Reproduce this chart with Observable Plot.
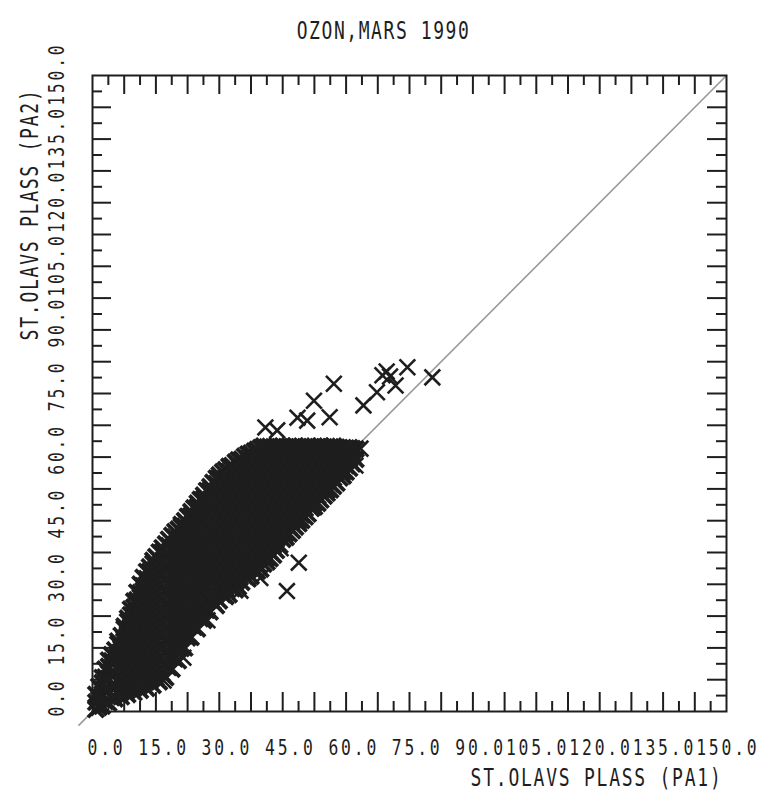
<!DOCTYPE html>
<html>
<head>
<meta charset="utf-8">
<script src="https://cdn.jsdelivr.net/npm/d3@7"></script>
<script src="https://cdn.jsdelivr.net/npm/@observablehq/plot@0.6"></script>
<style>
  html, body { margin: 0; padding: 0; background: #fff; }
  svg text { font-family: "DejaVu Sans Mono", "Liberation Mono", monospace; }
</style>
</head>
<body>
<div id="chart"></div>
<script>
// Ozone, March 1990: hourly values at St. Olavs plass, PA1 against PA2
const title = "OZON,MARS 1990";
const xLabel = "ST.OLAVS PLASS (PA1)";
const yLabel = "ST.OLAVS PLASS (PA2)";

// axis: labels every 15, long ticks every 7.5, short ticks between
const labelTicks = [0, 15, 30, 45, 60, 75, 90, 105, 120, 135, 150];
const longTicks = [7.5, 15, 22.5, 30, 37.5, 45, 52.5, 60, 67.5, 75, 82.5, 90, 97.5, 105, 112.5, 120, 127.5, 135, 142.5];
const shortTicks = [3.75, 11.25, 18.75, 26.25, 33.75, 41.25, 48.75, 56.25, 63.75, 71.25, 78.75, 86.25, 93.75, 101.25, 108.75, 116.25, 123.75, 131.25, 138.75, 146.25];

// 1:1 reference line
const diagonal = [-3.2, 150];

// main body of readings: each row is one PA1 value followed by the PA2 values read at it
const columns = [
  [0.8, 0.5, 2.2, 4.0],
  [1.5, 1.0, 3.4, 5.9],
  [2.3, 1.3, 4.1, 6.8, 8.0],
  [3.0, 2.4, 5.3, 8.1, 10.0],
  [3.8, 2.0, 4.9, 7.7, 10.6, 12.1],
  [4.5, 3.3, 6.2, 9.1, 11.9, 13.4],
  [5.3, 3.0, 5.8, 8.7, 11.6, 14.5],
  [6.0, 4.4, 7.3, 10.1, 13.0, 15.9, 16.6],
  [6.8, 3.5, 6.4, 9.3, 12.1, 15.0, 17.9],
  [7.5, 5.1, 8.0, 10.9, 13.7, 16.6, 19.5, 20.1],
  [8.3, 4.0, 6.9, 9.8, 12.6, 15.5, 18.4, 21.2, 22.0],
  [9.0, 5.6, 8.5, 11.4, 14.2, 17.1, 20.0, 22.8, 24.1],
  [9.8, 4.5, 7.4, 10.3, 13.1, 16.0, 18.9, 21.7, 24.6, 26.0],
  [10.5, 6.2, 9.1, 12.0, 14.8, 17.7, 20.6, 23.4, 26.3, 28.1],
  [11.3, 5.0, 7.9, 10.8, 13.6, 16.5, 19.4, 22.2, 25.1, 28.0, 30.0],
  [12.0, 6.6, 9.5, 12.4, 15.2, 18.1, 21.0, 23.8, 26.7, 29.6, 31.6],
  [12.8, 5.5, 8.4, 11.3, 14.1, 17.0, 19.9, 22.7, 25.6, 28.5, 31.3, 33.0],
  [13.5, 7.2, 10.1, 13.0, 15.8, 18.7, 21.6, 24.4, 27.3, 30.2, 33.0, 34.1],
  [14.3, 6.2, 9.1, 12.0, 14.8, 17.7, 20.6, 23.4, 26.3, 29.2, 32.0, 34.9, 35.6],
  [15.0, 7.9, 10.8, 13.7, 16.5, 19.4, 22.3, 25.1, 28.0, 30.9, 33.7, 36.5],
  [15.8, 7.0, 9.9, 12.8, 15.6, 18.5, 21.4, 24.2, 27.1, 30.0, 32.8, 35.7, 37.6],
  [16.5, 8.9, 11.8, 14.7, 17.5, 20.4, 23.3, 26.1, 29.0, 31.9, 34.7, 37.6, 38.6],
  [17.3, 8.0, 10.9, 13.8, 16.6, 19.5, 22.4, 25.2, 28.1, 31.0, 33.8, 36.7, 39.5],
  [18.0, 10.4, 13.3, 16.2, 19.0, 21.9, 24.8, 27.6, 30.5, 33.4, 36.2, 39.1, 40.6],
  [18.8, 10.0, 12.9, 15.8, 18.6, 21.5, 24.4, 27.2, 30.1, 33.0, 35.8, 38.7, 41.5],
  [19.5, 12.4, 15.3, 18.2, 21.0, 23.9, 26.8, 29.6, 32.5, 35.4, 38.2, 41.1, 42.4],
  [20.3, 12.0, 14.9, 17.8, 20.6, 23.5, 26.4, 29.2, 32.1, 35.0, 37.8, 40.7, 43.0],
  [21.0, 14.9, 17.8, 20.7, 23.5, 26.4, 29.3, 32.1, 35.0, 37.9, 40.7, 43.6, 44.1],
  [21.8, 15.0, 17.9, 20.8, 23.6, 26.5, 29.4, 32.2, 35.1, 38.0, 40.8, 43.7, 45.0],
  [22.5, 17.4, 20.3, 23.2, 26.0, 28.9, 31.8, 34.6, 37.5, 40.4, 43.2, 46.0],
  [23.3, 17.5, 20.4, 23.3, 26.1, 29.0, 31.9, 34.7, 37.6, 40.5, 43.3, 46.2, 47.1],
  [24.0, 19.9, 22.8, 25.7, 28.5, 31.4, 34.3, 37.1, 40.0, 42.9, 45.7, 48.0],
  [24.8, 19.5, 22.4, 25.3, 28.1, 31.0, 33.9, 36.7, 39.6, 42.5, 45.3, 48.2, 49.1],
  [25.5, 21.9, 24.8, 27.7, 30.5, 33.4, 36.3, 39.1, 42.0, 44.9, 47.7, 50.0],
  [26.3, 21.5, 24.4, 27.3, 30.1, 33.0, 35.9, 38.7, 41.6, 44.5, 47.3, 50.2, 51.0],
  [27.0, 23.9, 26.8, 29.7, 32.5, 35.4, 38.3, 41.1, 44.0, 46.9, 49.7, 52.1],
  [27.8, 23.5, 26.4, 29.3, 32.1, 35.0, 37.9, 40.7, 43.6, 46.5, 49.3, 52.2, 53.0],
  [28.5, 25.9, 28.8, 31.7, 34.5, 37.4, 40.3, 43.1, 46.0, 48.9, 51.7, 54.0],
  [29.3, 25.0, 27.9, 30.8, 33.6, 36.5, 39.4, 42.2, 45.1, 48.0, 50.8, 53.7, 55.0],
  [30.0, 26.1, 29.0, 31.9, 34.8, 37.7, 40.6, 43.5, 46.4, 49.3, 52.2, 55.1, 55.8],
  [30.8, 27.6, 30.5, 33.4, 36.3, 39.2, 42.1, 45.0, 47.9, 50.8, 53.7, 56.5],
  [31.5, 27.1, 29.0, 31.9, 34.8, 37.7, 40.6, 43.5, 46.4, 49.3, 52.2, 55.1, 57.0],
  [32.3, 27.6, 30.5, 33.4, 36.3, 39.2, 42.1, 45.0, 47.9, 50.8, 53.7, 56.6, 57.8],
  [33.0, 29.0, 31.9, 34.8, 37.7, 40.6, 43.5, 46.4, 49.3, 52.2, 55.1, 58.0],
  [33.8, 28.7, 30.5, 33.4, 36.3, 39.2, 42.1, 45.0, 47.9, 50.8, 53.7, 56.6, 58.8],
  [34.5, 29.4, 31.9, 34.8, 37.7, 40.6, 43.5, 46.4, 49.3, 52.2, 55.1, 58.0, 59.3],
  [35.3, 30.5, 33.4, 36.3, 39.2, 42.1, 45.0, 47.9, 50.8, 53.7, 56.6, 59.5],
  [36.0, 31.9, 34.8, 37.7, 40.6, 43.5, 46.4, 49.3, 52.2, 55.1, 58.0, 60.2],
  [36.8, 31.3, 33.4, 36.3, 39.2, 42.1, 45.0, 47.9, 50.8, 53.7, 56.6, 59.5, 60.7],
  [37.5, 31.9, 34.8, 37.7, 40.6, 43.5, 46.4, 49.3, 52.2, 55.1, 58.0, 60.9],
  [38.3, 33.4, 36.3, 39.2, 42.1, 45.0, 47.9, 50.8, 53.7, 56.6, 59.5, 61.4],
  [39.0, 33.1, 34.8, 37.7, 40.6, 43.5, 46.4, 49.3, 52.2, 55.1, 58.0, 60.9, 61.8],
  [39.8, 33.6, 36.3, 39.2, 42.1, 45.0, 47.9, 50.8, 53.7, 56.6, 59.5, 62.2],
  [40.5, 34.8, 37.7, 40.6, 43.5, 46.4, 49.3, 52.2, 55.1, 58.0, 60.9, 62.6],
  [41.3, 35.3, 36.3, 39.2, 42.1, 45.0, 47.9, 50.8, 53.7, 56.6, 59.5, 62.4],
  [42.0, 36.1, 37.7, 40.6, 43.5, 46.4, 49.3, 52.2, 55.1, 58.0, 60.9, 62.5],
  [42.8, 36.9, 39.2, 42.1, 45.0, 47.9, 50.8, 53.7, 56.6, 59.5, 62.4],
  [43.5, 38.0, 40.6, 43.5, 46.4, 49.3, 52.2, 55.1, 58.0, 60.9, 62.5],
  [44.3, 39.2, 42.1, 45.0, 47.9, 50.8, 53.7, 56.6, 59.5, 62.4],
  [45.0, 40.6, 43.5, 46.4, 49.3, 52.2, 55.1, 58.0, 60.9, 62.6],
  [45.8, 41.1, 42.1, 45.0, 47.9, 50.8, 53.7, 56.6, 59.5, 62.4],
  [46.5, 41.9, 43.5, 46.4, 49.3, 52.2, 55.1, 58.0, 60.9, 62.5],
  [47.3, 42.7, 45.0, 47.9, 50.8, 53.7, 56.6, 59.5, 62.4],
  [48.0, 43.5, 46.4, 49.3, 52.2, 55.1, 58.0, 60.9, 62.6],
  [48.8, 44.3, 45.0, 47.9, 50.8, 53.7, 56.6, 59.5, 62.4],
  [49.5, 45.1, 46.4, 49.3, 52.2, 55.1, 58.0, 60.9, 62.5],
  [50.3, 45.9, 47.9, 50.8, 53.7, 56.6, 59.5, 62.4],
  [51.0, 46.6, 49.3, 52.2, 55.1, 58.0, 60.9, 62.6],
  [51.8, 47.9, 50.8, 53.7, 56.6, 59.5, 62.4],
  [52.5, 48.3, 49.3, 52.2, 55.1, 58.0, 60.9, 62.5],
  [53.3, 49.1, 50.8, 53.7, 56.6, 59.5, 62.4],
  [54.0, 49.9, 52.2, 55.1, 58.0, 60.9, 62.6],
  [54.8, 50.8, 53.7, 56.6, 59.5, 62.4],
  [55.5, 51.5, 52.2, 55.1, 58.0, 60.9, 62.5],
  [56.3, 52.3, 53.7, 56.6, 59.5, 62.4],
  [57.0, 53.1, 55.1, 58.0, 60.9, 62.6],
  [57.8, 53.9, 56.6, 59.5, 62.3],
  [58.5, 55.1, 58.0, 60.9, 62.2],
  [59.3, 55.6, 56.6, 59.5, 62.2],
  [60.0, 56.5, 58.0, 60.9, 62.1],
  [60.8, 57.4, 59.5, 62.2],
  [61.5, 58.4, 60.9, 62.0],
  [62.3, 59.5, 61.9]
];
const readings = columns.flatMap(([pa1, ...pa2]) => pa2.map(v => [pa1, v]));

// scattered readings off the main body
const outliers = [
  [46.0,28.4],[48.8,35.1],[21.5,12.7],[16.8,7.3],[27.2,21.5],[35.0,28.5],[39.7,31.5],[44.5,38.5],
  [40.9,67.0],[43.7,66.3],[48.5,69.3],[50.8,68.6],[52.4,73.3],[56.1,69.4],[57.1,77.3],
  [63.4,62.0],[62.2,58.0],[64.1,72.2],[67.3,75.3],[68.6,79.3],[69.6,80.2],[70.4,79.0],
  [71.7,76.9],[74.5,81.2],[80.4,78.8]
];

const ink = "#1e1e1e";
const W = 760, H = 793;
const mL = 92, mR = 34, mT = 75, mB = 82;
const frameW = W - mL - mR, frameH = H - mT - mB;
const longLen = 19, shortLen = 10;
const fmt = d => d.toFixed(1);
const textBase = {fill: ink, lineAnchor: "middle"};

const chart = Plot.plot({
  width: W,
  height: H,
  marginLeft: mL,
  marginRight: mR,
  marginTop: mT,
  marginBottom: mB,
  x: {domain: [0, 150], axis: null},
  y: {domain: [0, 150], axis: null},
  style: {background: "#fff", color: ink},
  marks: [
    Plot.line(diagonal.map(v => [v, v]), {x: d => d[0], y: d => d[1], stroke: "#999", strokeWidth: 1.6}),
    // inward ticks on all four sides
    Plot.tickX(longTicks, {x: d => d, insetTop: frameH - longLen, stroke: ink, strokeWidth: 2}),
    Plot.tickX(shortTicks, {x: d => d, insetTop: frameH - shortLen, stroke: ink, strokeWidth: 2}),
    Plot.tickX(longTicks, {x: d => d, insetBottom: frameH - longLen, stroke: ink, strokeWidth: 2}),
    Plot.tickX(shortTicks, {x: d => d, insetBottom: frameH - shortLen, stroke: ink, strokeWidth: 2}),
    Plot.tickY(longTicks, {y: d => d, insetRight: frameW - longLen, stroke: ink, strokeWidth: 2}),
    Plot.tickY(shortTicks, {y: d => d, insetRight: frameW - shortLen, stroke: ink, strokeWidth: 2}),
    Plot.tickY(longTicks, {y: d => d, insetLeft: frameW - longLen, stroke: ink, strokeWidth: 2}),
    Plot.tickY(shortTicks, {y: d => d, insetLeft: frameW - shortLen, stroke: ink, strokeWidth: 2}),
    Plot.frame({stroke: ink, strokeWidth: 2}),
    Plot.dot(readings, {x: d => d[0], y: d => d[1], symbol: "times", r: 7.2, stroke: ink, strokeWidth: 3.8}),
    Plot.dot(outliers, {x: d => d[0], y: d => d[1], symbol: "times", r: 7.2, stroke: ink, strokeWidth: 2.6}),
    // tick labels (x, then y), each right-justified in a field centred on its tick
    Plot.text(labelTicks, {...textBase, x: d => d, frameAnchor: "bottom", dx: 33, dy: 37, textAnchor: "end", text: fmt, fontSize: 21}),
    Plot.text(labelTicks, {...textBase, y: d => d, frameAnchor: "left", dx: -35, dy: -33, rotate: -90, textAnchor: "end", text: fmt, fontSize: 21}),
    // title and axis names
    Plot.text([title], {...textBase, frameAnchor: "top-left", dx: 291, dy: -44, textAnchor: "middle", text: d => d, fontSize: 24}),
    Plot.text([xLabel], {...textBase, frameAnchor: "bottom-right", dx: -4, dy: 67, textAnchor: "end", text: d => d, fontSize: 24}),
    Plot.text([yLabel], {...textBase, frameAnchor: "top-left", dx: -62, dy: 13, rotate: -90, textAnchor: "end", text: d => d, fontSize: 24})
  ]
});

// tall, narrow lettering with wide spacing; text groups come in mark order
function condense(group, sx, spacing) {
  group.querySelectorAll("text").forEach(t => {
    const x0 = +t.getAttribute("x") || 0, y0 = +t.getAttribute("y") || 0;
    const tr = t.getAttribute("transform") || "";
    t.setAttribute("transform", `${tr} translate(${x0},${y0}) scale(${sx},1) translate(${-x0},${-y0})`);
    t.style.letterSpacing = spacing + "px";
  });
}
const textGroups = chart.querySelectorAll('g[aria-label="text"]');
const lettering = [[0.78, 3.6], [0.78, 3.6], [0.75, 2.1], [0.75, 2.35], [0.75, 2.35]];
textGroups.forEach((g, i) => { if (lettering[i]) condense(g, ...lettering[i]); });

document.getElementById("chart").append(chart);
</script>
</body>
</html>
